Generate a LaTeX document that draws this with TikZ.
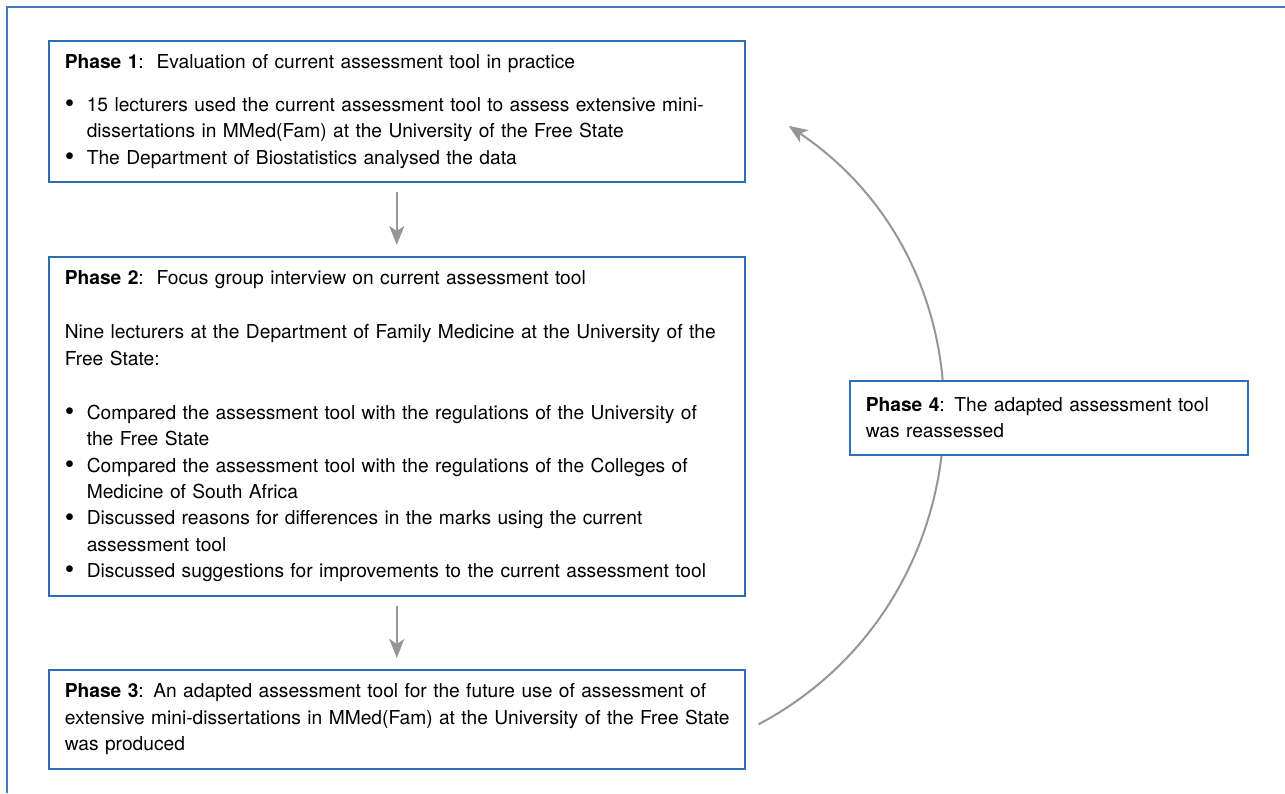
\documentclass[tikz,border=0pt]{standalone}
\usepackage{fontspec}
\setmainfont{TeX Gyre Heros}
\usetikzlibrary{arrows.meta}
\definecolor{phaseblue}{RGB}{46,110,182}
\definecolor{frameblue}{RGB}{66,124,186}
\definecolor{flowgray}{RGB}{150,150,154}
\newcommand{\bul}{\makebox[11pt][l]{\raisebox{-0.6pt}{\fontsize{13.5}{13}\selectfont\textbullet}}}
\newcommand{\cont}{\hspace*{11pt}}

\begin{document}
\begin{tikzpicture}
[x=0.5pt,y=0.5pt,%
  phase/.style={draw=phaseblue,line width=0.8pt,fill=white,anchor=north west,
    align=left,text width=332pt,inner xsep=8pt,inner ysep=0pt,minimum width=348pt,
    font=\fontsize{9.6}{13.2}\selectfont},%
  flow/.style={draw=flowgray,line width=1.3pt,-{Stealth[length=9.5pt,width=7.5pt,inset=2.5pt]}},%
  loop/.style={draw=flowgray,line width=1pt,-{Stealth[length=9.5pt,width=7.5pt,inset=2.5pt]}}]
\useasboundingbox (0,0) rectangle (1285,793);
\draw[frameblue,line width=1pt] (7,0) -- (7,786) -- (1285,786);

\node[phase,minimum height=70.5pt] (p1) at (48,753)
  {\textbf{Phase 1}:\ \ Evaluation of current assessment tool in practice\\[8.3pt]
   \bul\mbox{15 lecturers used the current assessment tool to assess extensive mini-}\\
   \cont dissertations in MMed(Fam) at the University of the Free State\\
   \bul The Department of Biostatistics analysed the data};
\node[phase,minimum height=169.5pt] (p2) at (48,537)
  {\textbf{Phase 2}:\ \ Focus group interview on current assessment tool\\[13.8pt]
   \mbox{Nine lecturers at the Department of Family Medicine at the University of the}\\
   Free State:\\[13.8pt]
   \bul\mbox{Compared the assessment tool with the regulations of the University of}\\
   \cont the Free State\\
   \bul\mbox{Compared the assessment tool with the regulations of the Colleges of}\\
   \cont Medicine of South Africa\\
   \bul Discussed reasons for differences in the marks using the current\\
   \cont assessment tool\\
   \bul\mbox{Discussed suggestions for improvements to the current assessment tool}};
\node[phase,minimum height=49.5pt] (p3) at (48,124)
  {\mbox{\textbf{Phase 3}: An adapted assessment tool for the future use of assessment of}\\
   \mbox{extensive mini-dissertations in MMed(Fam) at the University of the Free State}\\
   was produced};

\draw[flow] ([yshift=-4.5pt]p1.south) -- ([yshift=5.5pt]p2.north);
\draw[flow] ([yshift=-4.5pt]p2.south) -- ([yshift=5.5pt]p3.north);

% feedback loop, passes behind phase 4
\coordinate (loopstart) at ([xshift=6.5pt,yshift=-2.5pt]p3.east);
\coordinate (looptip) at ([xshift=21.5pt,yshift=-7.25pt]p1.east);
\draw[loop] (loopstart) to[out=28,in=-34,looseness=1.12] (looptip);

\node[phase,text width=183pt,minimum width=199pt,minimum height=37pt] (p4) at (849,413)
  {\textbf{Phase 4}: The adapted assessment tool\\
   was reassessed};
\end{tikzpicture}
\end{document}
